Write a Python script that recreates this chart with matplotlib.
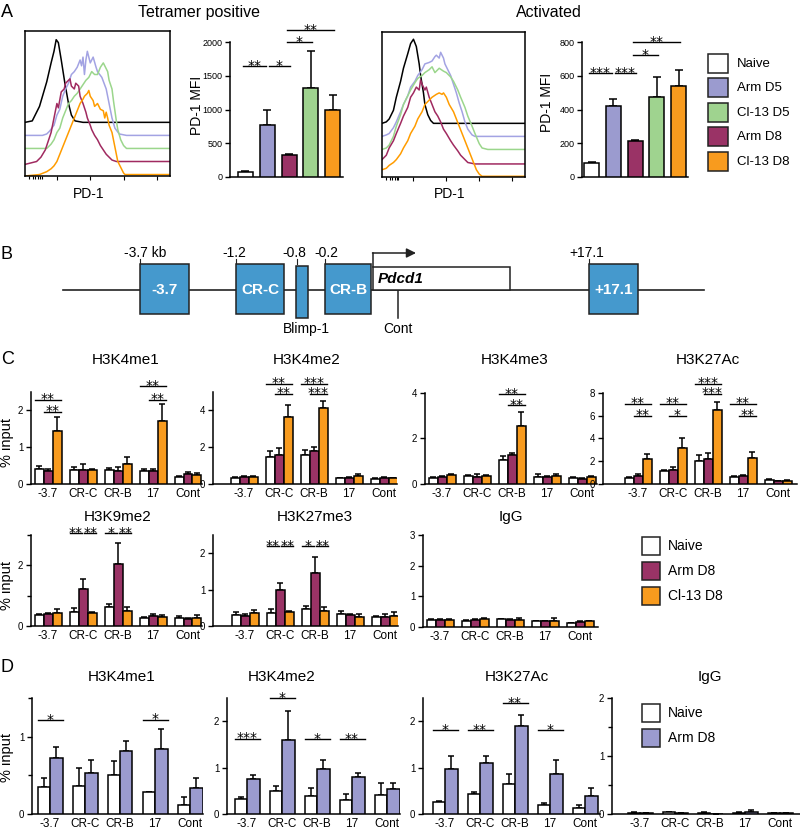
import numpy as np
import matplotlib
matplotlib.use("Agg")
import matplotlib.pyplot as plt
from matplotlib.patches import Rectangle

plt.rcParams['font.family'] = ['Liberation Sans', 'DejaVu Sans']

# ---------------- data ----------------
# panel A
a_groups = ['Naive', 'Arm D5', 'Arm D8', 'Cl-13 D5', 'Cl-13 D8']
a_legend = ['Naive', 'Arm D5', 'Cl-13 D5', 'Arm D8', 'Cl-13 D8']
tet_mfi = [80, 775, 322, 1320, 990]
tet_sem = [10, 225, 13, 550, 220]
act_mfi = [85, 420, 212, 475, 540]
act_sem = [5, 42, 6, 120, 95]
# significance: (bar i, bar j, height, label)
tet_sig = [(0, 1, 1644, '**'), (1, 2, 1644, '*'), (2, 3, 1995, '*'), (2, 4, 2178, '**')]
act_sig = [(0, 1, 615, '***'), (1, 2, 615, '***'), (2, 3, 723, '*'), (2, 4, 800, '**')]

# histograms (x, y in % of the box), offset curves
tet_naive = [(0, 37), (5, 38), (10, 48), (15, 65), (18, 78), (20, 86), (21.5, 94), (23, 92), (25, 80),
             (27.5, 64), (30, 50), (32, 42), (34.5, 38), (40, 37), (100, 37)]
tet_armd5 = [(0, 28), (12, 28), (15, 29), (17, 31), (20, 35), (22, 42), (24, 46), (26, 55), (28, 60), (30, 64),
             (32, 70), (34, 72), (36, 75), (38, 80), (39, 76), (40, 82), (41, 70), (42, 80), (43, 86), (45, 78),
             (47, 82), (49, 75), (50, 72), (53, 68), (56, 60), (58, 50), (60, 40), (62, 33), (65, 29), (70, 28), (100, 28)]
tet_cl13d5 = [(0, 19), (15, 19), (18, 22), (20, 25), (22, 30), (24, 33), (26, 40), (28, 45), (30, 50), (32, 52),
              (34, 55), (36, 57), (38, 60), (40, 63), (42, 66), (44, 68), (46, 72), (48, 70), (50, 70), (52, 75),
              (54, 78), (56, 74), (57, 72), (58, 66), (60, 60), (61, 52), (62, 45), (63, 38), (64, 32), (66, 25),
              (68, 21), (70, 19), (100, 19)]
tet_armd8 = [(0, 8), (4, 9), (8, 10), (11, 13), (14, 18), (16, 24), (18, 30), (20, 40), (22, 50), (23, 47),
             (25, 58), (27, 60), (28, 64), (30, 66), (31, 67), (32, 62), (34, 60), (35, 64), (37, 62), (38, 55),
             (40, 50), (42, 44), (43, 40), (45, 35), (46, 32), (48, 28), (50, 25), (52, 21), (54, 18), (56, 15),
             (58, 13), (60, 11), (63, 10), (100, 10)]
tet_cl13d8 = [(0, 0), (10, 1), (15, 3), (18, 5), (20, 7), (22, 10), (24, 15), (26, 20), (28, 25), (30, 30),
              (32, 35), (34, 40), (36, 45), (38, 50), (40, 53), (41, 55), (43, 57), (44, 59), (45, 55), (47, 52),
              (48, 48), (50, 50), (52, 46), (54, 45), (55, 40), (56, 44), (57, 40), (58, 35), (60, 30), (61, 25),
              (62, 20), (63, 15), (64, 10), (66, 6), (68, 2), (69, 1), (100, 1)]

act_naive = [(0, 37), (3, 38), (5, 40), (8, 46), (10, 55), (13, 66), (15, 75), (18, 85), (20, 92), (22, 95),
             (24, 90), (26, 78), (27, 70), (29, 58), (30, 50), (32, 43), (34, 39), (36, 37), (100, 37)]
act_armd5 = [(0, 28), (3, 29), (5, 30), (8, 34), (10, 38), (13, 45), (15, 50), (18, 56), (20, 62), (23, 66),
             (25, 70), (28, 74), (30, 78), (33, 79), (35, 80), (37, 83), (38, 84), (40, 82), (41, 86), (43, 82),
             (44, 78), (46, 74), (48, 70), (50, 64), (52, 58), (54, 51), (56, 45), (58, 38), (60, 33), (63, 29),
             (65, 28), (100, 28)]
act_cl13d5 = [(0, 19), (3, 20), (5, 22), (8, 28), (10, 35), (13, 43), (15, 50), (18, 56), (20, 60), (23, 65),
              (25, 68), (28, 70), (30, 72), (33, 74), (35, 76), (37, 72), (40, 75), (43, 73), (45, 72), (48, 69),
              (50, 66), (53, 60), (55, 55), (58, 48), (60, 42), (63, 35), (65, 30), (68, 23), (70, 20), (74, 19),
              (100, 19)]
act_armd8 = [(0, 12), (3, 15), (5, 20), (8, 25), (10, 30), (13, 37), (15, 42), (18, 48), (20, 55), (22, 58),
             (24, 62), (26, 60), (27, 67), (28, 64), (30, 60), (31, 62), (33, 55), (35, 50), (37, 45), (39, 42),
             (41, 38), (43, 33), (45, 30), (48, 25), (50, 22), (53, 18), (55, 15), (58, 12), (60, 10), (65, 9),
             (100, 9)]
act_cl13d8 = [(0, 5), (3, 6), (5, 8), (8, 10), (10, 12), (13, 16), (15, 20), (18, 25), (20, 30), (23, 35),
              (25, 40), (28, 45), (30, 50), (33, 53), (35, 55), (38, 57), (40, 58), (42, 57), (43, 58), (45, 55),
              (47, 50), (50, 45), (52, 40), (54, 35), (56, 30), (58, 25), (60, 20), (62, 15), (64, 10), (66, 5),
              (68, 2), (70, 0.5), (100, 0.5)]

# panel C / D: ChIP, % input
regions = ['-3.7', 'CR-C', 'CR-B', '17', 'Cont']
c_groups = ['Naive', 'Arm D8', 'Cl-13 D8']
d_groups = ['Naive', 'Arm D8']

k4me1_mean = [[0.42, 0.37, 0.37, 0.36, 0.19], [0.36, 0.38, 0.36, 0.34, 0.26], [1.43, 0.37, 0.55, 1.70, 0.25]]
k4me1_sem = [[0.07, 0.10, 0.07, 0.05, 0.02], [0.04, 0.15, 0.09, 0.06, 0.06], [0.40, 0.04, 0.19, 0.48, 0.06]]
k4me1_sig = [(0, 0, 2, 2.29, '**'), (0, 1, 2, 1.97, '**'), (3, 0, 2, 2.65, '**'), (3, 1, 2, 2.29, '**')]

k4me2_mean = [[0.32, 1.47, 1.56, 0.32, 0.25], [0.37, 1.60, 1.80, 0.35, 0.33], [0.37, 3.65, 4.15, 0.45, 0.30]]
k4me2_sem = [[0.04, 0.33, 0.28, 0.03, 0.05], [0.05, 0.33, 0.23, 0.05, 0.04], [0.05, 0.65, 0.35, 0.10, 0.05]]
k4me2_sig = [(1, 0, 2, 5.45, '**'), (1, 1, 2, 4.9, '**'), (2, 0, 2, 5.45, '***'), (2, 1, 2, 4.9, '***')]

k4me3_mean = [[0.28, 0.35, 1.06, 0.32, 0.27], [0.30, 0.30, 1.27, 0.30, 0.22], [0.38, 0.35, 2.57, 0.33, 0.30]]
k4me3_sem = [[0.04, 0.05, 0.18, 0.10, 0.04], [0.07, 0.12, 0.11, 0.05, 0.04], [0.07, 0.03, 0.58, 0.12, 0.04]]
k4me3_sig = [(2, 0, 2, 3.96, '**'), (2, 1, 2, 3.47, '**')]

k27ac_mean = [[0.57, 1.12, 2.06, 0.60, 0.35], [0.70, 1.27, 2.24, 0.66, 0.25], [2.17, 3.13, 6.47, 2.25, 0.28]]
k27ac_sem = [[0.07, 0.08, 0.50, 0.08, 0.07], [0.20, 0.25, 0.45, 0.10, 0.05], [0.44, 0.87, 0.76, 0.55, 0.04]]
k27ac_sig = [(0, 0, 2, 7.06, '**'), (0, 1, 2, 6.0, '**'), (1, 0, 2, 7.06, '**'), (1, 1, 2, 6.0, '*'),
             (2, 0, 2, 8.82, '***'), (2, 1, 2, 7.94, '***'), (3, 0, 2, 7.06, '**'), (3, 1, 2, 6.0, '**')]

k9me2_mean = [[0.36, 0.47, 0.62, 0.26, 0.28], [0.40, 1.22, 2.04, 0.33, 0.22], [0.42, 0.44, 0.49, 0.30, 0.28]]
k9me2_sem = [[0.04, 0.12, 0.11, 0.04, 0.04], [0.04, 0.32, 0.71, 0.05, 0.04], [0.13, 0.03, 0.15, 0.05, 0.09]]
k9me2_sig = [(1, 0, 1, 3.05, '**'), (1, 1, 2, 3.05, '**'), (2, 0, 1, 3.05, '*'), (2, 1, 2, 3.05, '**')]

k27me3_mean = [[0.30, 0.36, 0.47, 0.32, 0.24], [0.27, 1.00, 1.45, 0.30, 0.24], [0.35, 0.38, 0.40, 0.25, 0.28]]
k27me3_sem = [[0.08, 0.10, 0.09, 0.10, 0.03], [0.06, 0.17, 0.45, 0.03, 0.08], [0.10, 0.04, 0.12, 0.08, 0.10]]
k27me3_sig = [(1, 0, 1, 2.2, '**'), (1, 1, 2, 2.2, '**'), (2, 0, 1, 2.2, '*'), (2, 1, 2, 2.2, '**')]

igg_mean = [[0.22, 0.20, 0.25, 0.18, 0.13], [0.24, 0.24, 0.22, 0.18, 0.15], [0.24, 0.25, 0.23, 0.20, 0.18]]
igg_sem = [[0.03, 0.03, 0.02, 0.02, 0.01], [0.03, 0.03, 0.04, 0.03, 0.03], [0.03, 0.03, 0.05, 0.08, 0.03]]

d_k4me1_mean = [[0.35, 0.36, 0.50, 0.29, 0.12], [0.73, 0.53, 0.82, 0.84, 0.33]]
d_k4me1_sem = [[0.12, 0.24, 0.18, 0.0, 0.10], [0.13, 0.17, 0.13, 0.26, 0.14]]
d_k4me1_sig = [(0, 0, 1, 1.21, '*'), (3, 0, 1, 1.22, '*')]

d_k4me2_mean = [[0.32, 0.50, 0.39, 0.30, 0.40], [0.76, 1.60, 0.96, 0.79, 0.53]]
d_k4me2_sem = [[0.05, 0.10, 0.17, 0.13, 0.26], [0.08, 0.61, 0.21, 0.10, 0.14]]
d_k4me2_sig = [(0, 0, 1, 1.62, '***'), (1, 0, 1, 2.49, '*'), (2, 0, 1, 1.61, '*'), (3, 0, 1, 1.61, '**')]

d_k27ac_mean = [[0.26, 0.43, 0.64, 0.19, 0.12], [0.96, 1.09, 1.89, 0.87, 0.39]]
d_k27ac_sem = [[0.03, 0.05, 0.22, 0.04, 0.07], [0.29, 0.16, 0.25, 0.29, 0.18]]
d_k27ac_sig = [(0, 0, 1, 1.81, '*'), (1, 0, 1, 1.8, '**'), (2, 0, 1, 2.39, '**'), (3, 0, 1, 1.81, '*')]

d_igg_mean = [[0.02, 0.03, 0.02, 0.02, 0.01], [0.015, 0.01, 0.005, 0.03, 0.01]]
d_igg_sem = [[0.01, 0.01, 0.01, 0.01, 0.005], [0.005, 0.005, 0.0, 0.04, 0.005]]

# panel B
b_boxes = ['-3.7', 'CR-C', 'CR-B', '+17.1']
b_coords = ['-3.7 kb', '-1.2', '-0.8', '-0.2', '+17.1']

colors = {'Naive': 'white', 'Arm D5': '#9b9bcf', 'Cl-13 D5': '#9fd38f',
          'Arm D8': '#9a3366', 'Cl-13 D8': '#f89b1e'}
d_colors = {'Naive': 'white', 'Arm D8': '#9b9bcf'}
hist_colors = {'Naive': 'black', 'Arm D5': '#a3a3e3', 'Cl-13 D5': '#9bd68c',
               'Arm D8': '#a02a60', 'Cl-13 D8': '#ff9c00'}

# ---------------- figure ----------------
W, H = 800, 834
fig = plt.figure(figsize=(W / 100, H / 100), dpi=100)


def px_axes(x0, y0, x1, y1):
    ax = fig.add_axes([x0 / W, 1 - y1 / H, (x1 - x0) / W, (y1 - y0) / H])
    ax.patch.set_alpha(0)
    return ax


over = fig.add_axes([0, 0, 1, 1])
over.set_xlim(0, W)
over.set_ylim(H, 0)
over.axis('off')
over.set_zorder(10)
over.patch.set_alpha(0)


def stars(ax, xc, y, label, fs=10):
    ax.annotate(label, (xc, y), xytext=(0, -2.6), textcoords='offset points', ha='center',
                va='baseline', fontsize=fs, family='DejaVu Sans', annotation_clip=False)


def bar_axes_style(ax, ymax, yticks, minor=None, tfs=7):
    for s in ['top', 'right']:
        ax.spines[s].set_visible(False)
    for s in ['left', 'bottom']:
        ax.spines[s].set_linewidth(1.1)
    ax.set_ylim(0, ymax)
    ax.set_yticks(yticks)
    if minor is not None:
        ax.set_yticks(minor, minor=True)
        ax.tick_params(axis='y', which='minor', length=3, width=1.0)
    ax.tick_params(axis='y', length=3.5, width=1.0, labelsize=tfs, pad=2)


# ---- panel A ----
def hist_panel(box, curves, xlabel_x):
    ax = px_axes(*box)
    for name, pts in curves:
        xs, ys = zip(*pts)
        ax.plot(xs, ys, color=hist_colors[name], lw=1.1)
    ax.set_xlim(0, 100)
    ax.set_ylim(0, 100)
    ax.set_yticks([])
    ax.set_xticks([22, 45, 68, 91])
    ax.set_xticks([3, 5.5, 7, 9, 10.5, 11.5], minor=True)
    ax.set_xticklabels([])
    ax.tick_params(axis='x', which='major', length=3, width=0.8)
    ax.tick_params(axis='x', which='minor', length=2, width=0.8)
    for s in ax.spines.values():
        s.set_linewidth(1.1)
    over.text(xlabel_x, 194, 'PD-1', ha='center', va='center', fontsize=10)


hist_panel((25, 31, 170, 176), [('Naive', tet_naive), ('Arm D5', tet_armd5), ('Cl-13 D5', tet_cl13d5),
                                ('Arm D8', tet_armd8), ('Cl-13 D8', tet_cl13d8)], 89)
hist_panel((382, 32, 525, 177), [('Naive', act_naive), ('Arm D5', act_armd5), ('Cl-13 D5', act_cl13d5),
                                 ('Arm D8', act_armd8), ('Cl-13 D8', act_cl13d8)], 450)


def mfi_panel(xl, xr, c0, ymax, yticks, vals, sems, sigs):
    ax = px_axes(xl, 42, xr, 177)
    step = 21.75
    xs = np.arange(len(vals))
    ax.bar(xs, vals, 15 / step, color=[colors[g] for g in a_groups], edgecolor='black', lw=1.1, zorder=3)
    ax.errorbar(xs, vals, yerr=[np.zeros(len(vals)), sems], fmt='none', ecolor='black',
                elinewidth=1.1, capsize=3, capthick=1.1, zorder=2)
    ax.set_xlim((xl - c0) / step, (xr - c0) / step)
    ax.set_xticks([])
    bar_axes_style(ax, ymax, yticks, tfs=6.5)
    for i, j, y, lab in sigs:
        x1, x2 = i - 0.1, j + 0.05
        if any(s[0] == j and s[2] == y for s in sigs):
            x2 = j - 0.08
        if any(s[1] == i and s[2] == y for s in sigs):
            x1 = i + 0.08
        ax.plot([x1, x2], [y, y], color='black', lw=1.0, clip_on=False)
        stars(ax, (x1 + x2) / 2, y, lab)
    return ax


mfi_panel(230, 343, 245.5, 2000, [0, 500, 1000, 1500, 2000], tet_mfi, tet_sem, tet_sig)
mfi_panel(582, 688, 591.5, 800, [0, 200, 400, 600, 800], act_mfi, act_sem, act_sig)
over.text(197, 105, 'PD-1 MFI', rotation=90, ha='center', va='center', fontsize=10)
over.text(547, 102, 'PD-1 MFI', rotation=90, ha='center', va='center', fontsize=10)
over.text(199, 12, 'Tetramer positive', ha='center', va='center', fontsize=11.5)
over.text(549, 12, 'Activated', ha='center', va='center', fontsize=11.5)
over.text(1, 12, 'A', ha='left', va='center', fontsize=13)

for k, g in enumerate(a_legend):
    y0 = 54 + k * 24.4
    over.add_patch(Rectangle((708, y0), 20, 19, facecolor=colors[g], edgecolor='#222222', lw=1.1))
    over.text(737, y0 + 10, g, ha='left', va='center', fontsize=9.5)

# ---- panel B ----
over.text(1, 254, 'B', ha='left', va='center', fontsize=13)
over.plot([63, 704], [290, 290], color='#222222', lw=1.2)
blue = '#4599cd'
box_x = [140, 236, 325, 589]
box_w = [49, 48, 46, 49]
for lab, x, w in zip(b_boxes, box_x, box_w):
    over.add_patch(Rectangle((x, 264), w, 50, facecolor=blue, edgecolor='#222222', lw=1.1, zorder=3))
    over.text(x + w / 2, 290, lab, ha='center', va='center', color='white', fontsize=11,
              fontweight='bold', zorder=4)
over.add_patch(Rectangle((296, 266), 12, 52, facecolor=blue, edgecolor='#222222', lw=1.1, zorder=3))
over.add_patch(Rectangle((373, 267), 137, 23, facecolor='white', edgecolor='#222222', lw=1.1, zorder=3))
over.text(378, 279, 'Pdcd1', ha='left', va='center', fontsize=11, fontweight='bold', fontstyle='italic', zorder=4)
over.plot([373, 373], [267, 253], color='#222222', lw=1.1)
over.annotate('', xy=(416, 253), xytext=(372.5, 253),
              arrowprops=dict(arrowstyle='-|>', color='#222222', lw=1.1, mutation_scale=14, shrinkA=0, shrinkB=0))
over.plot([398, 398], [290, 318], color='#222222', lw=1.1)
tick_x = [140, 236, 297, 325, 589]
lab_x = [145, 234, 294, 326, 587]
for lab, tx, lx in zip(b_coords, tick_x, lab_x):
    over.plot([tx, tx], [259, 264], color='#222222', lw=0.8)
    over.text(lx, 253, lab, ha='center', va='center', fontsize=10)
over.text(306, 329, 'Blimp-1', ha='center', va='center', fontsize=10)
over.text(398, 329, 'Cont', ha='center', va='center', fontsize=10)


# ---- panels C and D ----
def chip_panel(xl, xr, c0, ytop, ybot, ymax, yticks, means, sems, groups, sigs, cmap, minor=None):
    ax = px_axes(xl, ytop, xr, ybot)
    n = len(groups)
    w = (9 if n == 3 else 12.5) / 35
    xs = np.arange(len(regions))
    for k, g in enumerate(groups):
        off = (k - (n - 1) / 2) * w
        ax.bar(xs + off, means[k], w, color=cmap[g], edgecolor='black', lw=1.1, zorder=3)
        ax.errorbar(xs + off, means[k], yerr=[np.zeros(len(regions)), sems[k]], fmt='none',
                    ecolor='black', elinewidth=1.1, capsize=2.2, capthick=1.1, zorder=2)
    ax.set_xlim((xl - c0) / 35, (xr - c0) / 35)
    ax.set_xticks(xs)
    ax.set_xticklabels(regions, fontsize=8.5)
    ax.tick_params(axis='x', length=0, pad=3)
    bar_axes_style(ax, ymax, yticks, minor)
    for grp, i, j, y, lab in sigs:
        ci = grp + (i - (n - 1) / 2) * w
        cj = grp + (j - (n - 1) / 2) * w
        if n == 2:
            x1, x2 = ci - w / 2, cj + w / 2
        else:
            x1, x2 = ci - 0.12, cj + 0.12
            if j == 1:
                x2 = cj - 0.03
            if i == 1 and any(s[0] == grp and s[2] == 1 and s[3] == y for s in sigs):
                x1 = ci + 0.03
        ax.plot([x1, x2], [y, y], color='black', lw=1.0, clip_on=False)
        stars(ax, (x1 + x2) / 2, y, lab)
    return ax


over.text(1, 359, 'C', ha='left', va='center', fontsize=13)
chip_panel(31, 202, 48, 392, 484, 2.5, [0, 1, 2], k4me1_mean, k4me1_sem, c_groups, k4me1_sig, colors)
chip_panel(213, 397, 244, 392, 484, 5, [0, 2, 4], k4me2_mean, k4me2_sem, c_groups, k4me2_sig, colors)
chip_panel(425, 597, 442, 393, 484, 4, [0, 2, 4], k4me3_mean, k4me3_sem, c_groups, k4me3_sig, colors)
chip_panel(603, 797, 638, 393, 484, 8, [0, 2, 4, 6, 8], k27ac_mean, k27ac_sem, c_groups, k27ac_sig, colors)
chip_panel(31, 202, 48, 535, 626, 3, [0, 2], k9me2_mean, k9me2_sem, c_groups, k9me2_sig, colors, minor=[1, 3])
chip_panel(213, 398, 245, 535, 626, 2.5, [0, 1, 2], k27me3_mean, k27me3_sem, c_groups, k27me3_sig, colors)
chip_panel(423, 598, 440, 535, 627, 3, [0, 1, 2, 3], igg_mean, igg_sem, c_groups, [], colors)

for x, y, t in [(126, 360, 'H3K4me1'), (307, 360, 'H3K4me2'), (515, 360, 'H3K4me3'), (708, 360, 'H3K27Ac'),
                (118, 517, 'H3K9me2'), (315, 517, 'H3K27me3'), (511, 517, 'IgG')]:
    over.text(x, y, t, ha='center', va='center', fontsize=11)
over.text(7, 442, '% input', rotation=90, ha='center', va='center', fontsize=10.5)
over.text(7, 585, '% input', rotation=90, ha='center', va='center', fontsize=10.5)

for k, g in enumerate(c_groups):
    y0 = 537 + k * 25
    over.add_patch(Rectangle((642, y0), 18, 18, facecolor=colors[g], edgecolor='#222222', lw=1.1))
    over.text(668, y0 + 9, g, ha='left', va='center', fontsize=10)

over.text(1, 668, 'D', ha='left', va='center', fontsize=13)
chip_panel(32, 203, 50, 698, 814, 1.5, [0, 1], d_k4me1_mean, d_k4me1_sem, d_groups, d_k4me1_sig, d_colors,
           minor=[0.5, 1.5])
chip_panel(227, 400, 247, 698, 814, 2.5, [0, 1, 2], d_k4me2_mean, d_k4me2_sem, d_groups, d_k4me2_sig, d_colors)
chip_panel(423, 600, 445, 698, 814, 2.5, [0, 1, 2], d_k27ac_mean, d_k27ac_sem, d_groups, d_k27ac_sig, d_colors)
chip_panel(612, 800, 640, 698, 814, 2, [0, 1, 2], d_igg_mean, d_igg_sem, d_groups, [], d_colors,
           minor=[0.5, 1.5])

for x, y, t in [(122, 677, 'H3K4me1'), (282, 677, 'H3K4me2'), (517, 677, 'H3K27Ac'), (710, 677, 'IgG')]:
    over.text(x, y, t, ha='center', va='center', fontsize=11)
over.text(7, 758, '% input', rotation=90, ha='center', va='center', fontsize=10.5)

for k, g in enumerate(d_groups):
    y0 = 704 + k * 25
    over.add_patch(Rectangle((642, y0), 18, 18, facecolor=d_colors[g], edgecolor='#222222', lw=1.1))
    over.text(668, y0 + 9, g, ha='left', va='center', fontsize=10)

fig.savefig('out.png', dpi=100)
